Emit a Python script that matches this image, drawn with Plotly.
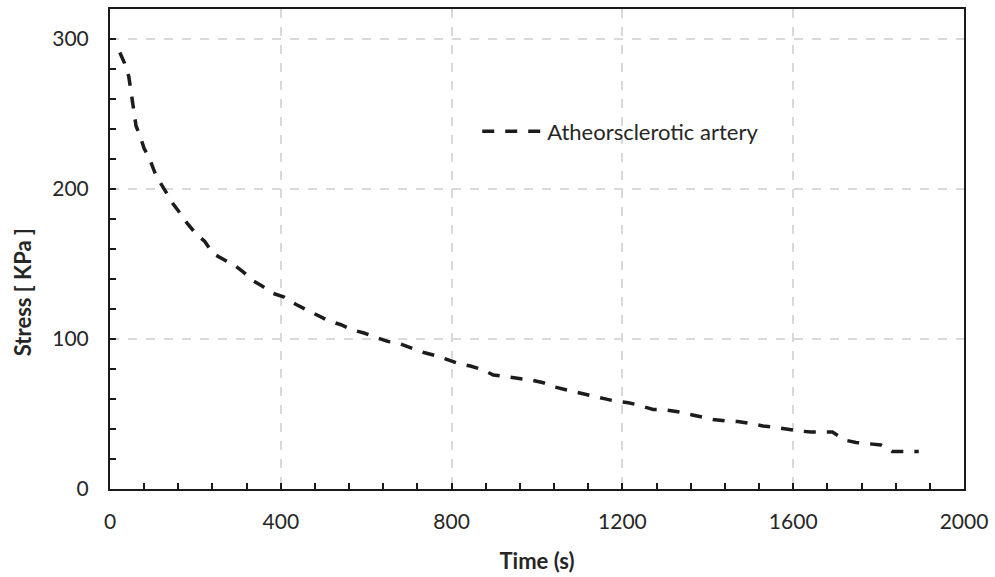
import plotly.graph_objects as go

# Stress relaxation of an atherosclerotic artery sample
time_s = [23, 34, 44, 48, 53, 57, 61, 70, 80, 93, 105, 117, 132, 148, 165, 181,
          202, 222, 241, 261, 292, 311, 334, 358, 381, 408, 436, 461, 486, 513,
          541, 568, 595, 622, 650, 677, 708, 735, 762, 790, 817, 844, 872, 898,
          930, 957, 988, 1015, 1042, 1070, 1097, 1124, 1155, 1182, 1214, 1237,
          1272, 1295, 1330, 1357, 1385, 1412, 1443, 1470, 1501, 1529, 1560, 1583,
          1614, 1641, 1673, 1692, 1700, 1723, 1747, 1777, 1805, 1832, 1859, 1894]
stress_kpa = [291, 284, 275, 268, 259, 251, 242, 235.6, 227, 220, 211, 204.6, 197,
              190, 183.6, 177, 170, 165, 157, 154, 149, 145, 139, 135, 130.5, 128,
              123, 119.4, 116, 112, 109.5, 106, 104, 101, 98.4, 97, 93.6, 91, 89,
              86, 83.6, 82, 79.6, 76, 74.8, 73.7, 72.5, 70.8, 68, 66, 64, 62.4,
              60.4, 58.6, 57.5, 56, 53, 53, 51.5, 50, 48, 46.4, 45.3, 45, 43.6, 42,
              41, 39.8, 38.7, 38, 38.3, 38, 36.5, 32.5, 31, 30.3, 29.4, 25, 25, 25]

series_name = "Atheorsclerotic artery"
x_ticks = [0, 400, 800, 1200, 1600, 2000]
y_ticks = [0, 100, 200, 300]

FONT = "Lato, 'Open Sans', sans-serif"
TEXT = "#262626"
AXIS = "#1a1a1a"
GRID = "#d9d9d9"

fig = go.Figure()
fig.add_trace(go.Scatter(
    x=time_s, y=stress_kpa, mode="lines", name=series_name,
    line=dict(color="#1c1c1c", width=3.5, dash="12px,11px"),
))

axis_common = dict(
    showline=True, linecolor=AXIS, linewidth=2, mirror=True,
    ticks="inside", ticklen=6, tickwidth=1.5, tickcolor=AXIS,
    showgrid=True, gridcolor=GRID, gridwidth=1.5, griddash="dash",
    zeroline=False,
    tickfont=dict(family=FONT, size=21, color=TEXT),
)

fig.update_xaxes(
    range=[0, 2000], tickvals=x_ticks, ticklabelstandoff=13,
    minor=dict(dtick=80, tick0=0, ticks="inside", ticklen=6, tickwidth=1.5,
               tickcolor=AXIS, showgrid=False),
    title=dict(text="<b>Time (s)</b>", standoff=21,
               font=dict(family=FONT, size=22, color=TEXT)),
    **axis_common,
)
fig.update_yaxes(
    range=[0, 320], tickvals=y_ticks, ticklabelstandoff=15,
    minor=dict(dtick=20, tick0=0, ticks="inside", ticklen=6, tickwidth=1.5,
               tickcolor=AXIS, showgrid=False),
    **axis_common,
)

# Rotated y-axis title, set slightly below the vertical centre
fig.add_annotation(
    text="<b>Stress [ KPa ]</b>", textangle=-90,
    xref="paper", yref="paper", x=-0.103, y=0.41,
    xanchor="center", yanchor="middle", showarrow=False,
    font=dict(family=FONT, size=22, color=TEXT),
)

fig.update_layout(
    width=995, height=577,
    margin=dict(l=110, r=28, t=7, b=87),
    paper_bgcolor="white", plot_bgcolor="white",
    showlegend=True,
    legend=dict(
        x=0.43, y=0.745, xanchor="left", yanchor="middle",
        bgcolor="rgba(0,0,0,0)", borderwidth=0,
        font=dict(family=FONT, size=22, color=TEXT),
        itemwidth=60,
    ),
)

fig.write_html("out.html")
